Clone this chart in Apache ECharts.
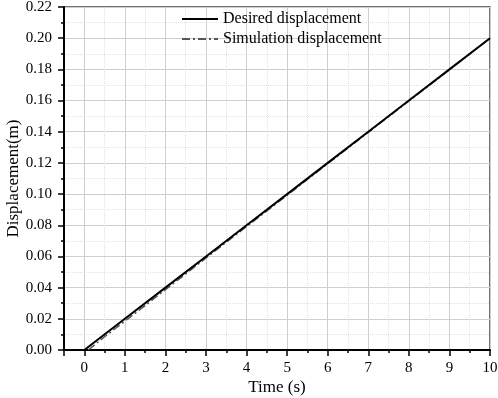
<!DOCTYPE html>
<html>
<head>
<meta charset="utf-8">
<script src="https://cdn.jsdelivr.net/npm/echarts@6/dist/echarts.min.js"></script>
<style>
  html, body { margin: 0; padding: 0; background: #fff; }
  #chart { width: 498px; height: 398px; }
</style>
</head>
<body>
<div id="chart"></div>
<script>
// desired displacement (straight reference)
var desiredTime = [0, 1, 2, 3, 4, 5, 6, 7, 8, 9, 10];
var desiredDisp = [0, 0.02, 0.04, 0.06, 0.08, 0.10, 0.12, 0.14, 0.16, 0.18, 0.20];
// simulated displacement (slight lag at start)
var simTime = [0.1, 0.5, 1, 1.5, 2, 2.5, 3, 4, 5, 6, 7, 8, 9, 10];
var simDisp = [0, 0.0085, 0.0185, 0.0285, 0.0387, 0.0488, 0.059, 0.0792, 0.0993, 0.1195, 0.1396, 0.1597, 0.1798, 0.2];

function pairs(xs, ys) {
  var res = [];
  for (var i = 0; i < xs.length; i++) res.push([xs[i], ys[i]]);
  return res;
}

var myChart = echarts.init(document.getElementById("chart"));
var font = "Liberation Serif";
var tickStyle = { color: "#000", width: 1.5 };
var gridMajor = { color: "#cfcfcf", width: 1 };
var gridMinor = { color: "#e2e2e2", width: 1, type: "dotted" };

var option = {
  backgroundColor: "#fff",
  animation: false,
  textStyle: { fontFamily: font },
  // grid 0: full frame from -0.5 to 10, grid 1: the 0..10 part that carries the ticks and data
  grid: [
    { left: 64, right: 8, top: 7, bottom: 48, outerBoundsMode: "none", containLabel: false,
      show: true, borderColor: "#444", borderWidth: 1.5 },
    { left: 84.3, right: 8, top: 7, bottom: 48, outerBoundsMode: "none", containLabel: false }
  ],
  legend: {
    orient: "vertical",
    left: 181,
    top: 11,
    padding: 0,
    itemWidth: 36,
    itemHeight: 14,
    itemGap: 4,
    itemStyle: { opacity: 0 },
    textStyle: { fontFamily: font, fontSize: 16, color: "#000" },
    data: ["Desired displacement", "Simulation displacement"]
  },
  xAxis: [
    {
      gridIndex: 0,
      type: "value",
      min: -0.5,
      max: 10,
      interval: 10.5,
      name: "Time (s)",
      nameLocation: "middle",
      nameGap: 29,
      nameTextStyle: { fontFamily: font, fontSize: 17, color: "#000" },
      axisLine: { onZero: false, lineStyle: { color: "#000", width: 2 } },
      axisTick: { show: true, length: 6, lineStyle: tickStyle },
      axisLabel: { show: false },
      splitLine: { show: false }
    },
    {
      gridIndex: 1,
      type: "value",
      min: 0,
      max: 10,
      interval: 1,
      axisLine: { show: false, onZero: false },
      axisTick: { show: true, inside: false, length: 6, lineStyle: tickStyle },
      minorTick: { show: true, splitNumber: 2, length: 3, lineStyle: tickStyle },
      axisLabel: { margin: 11, fontFamily: font, fontSize: 15, color: "#000" },
      splitLine: { show: true, lineStyle: gridMajor },
      minorSplitLine: { show: true, lineStyle: gridMinor }
    }
  ],
  yAxis: [
    {
      gridIndex: 0,
      type: "value",
      min: 0,
      max: 0.22,
      interval: 0.02,
      name: "Displacement(m)",
      nameLocation: "middle",
      nameGap: 42,
      nameMoveOverlap: false,
      nameTextStyle: { fontFamily: font, fontSize: 17, color: "#000" },
      axisLine: { show: true, onZero: false, lineStyle: { color: "#000", width: 2 } },
      axisTick: { show: true, inside: false, length: 6, lineStyle: tickStyle },
      minorTick: { show: true, splitNumber: 2, length: 3, lineStyle: tickStyle },
      axisLabel: {
        margin: 12,
        fontFamily: font, fontSize: 15, color: "#000",
        formatter: function (v) { return v.toFixed(2); }
      },
      splitLine: { show: true, lineStyle: gridMajor },
      minorSplitLine: { show: true, lineStyle: gridMinor }
    },
    {
      gridIndex: 1,
      type: "value",
      min: 0,
      max: 0.22,
      interval: 0.02,
      show: false
    }
  ],
  series: [
    {
      name: "Desired displacement",
      type: "line",
      xAxisIndex: 1,
      yAxisIndex: 1,
      data: pairs(desiredTime, desiredDisp),
      showSymbol: false,
      symbol: "none",
      lineStyle: { color: "#000", width: 2 },
      itemStyle: { color: "#000" },
      z: 3
    },
    {
      name: "Simulation displacement",
      type: "line",
      xAxisIndex: 1,
      yAxisIndex: 1,
      data: pairs(simTime, simDisp),
      showSymbol: false,
      symbol: "none",
      lineStyle: { color: "#555", width: 1.5, type: [8, 3, 2, 3] },
      itemStyle: { color: "#555" },
      z: 2
    }
  ]
};

myChart.setOption(option);
window.addEventListener("resize", function () {
  myChart.resize();
});
</script>
</body>
</html>
